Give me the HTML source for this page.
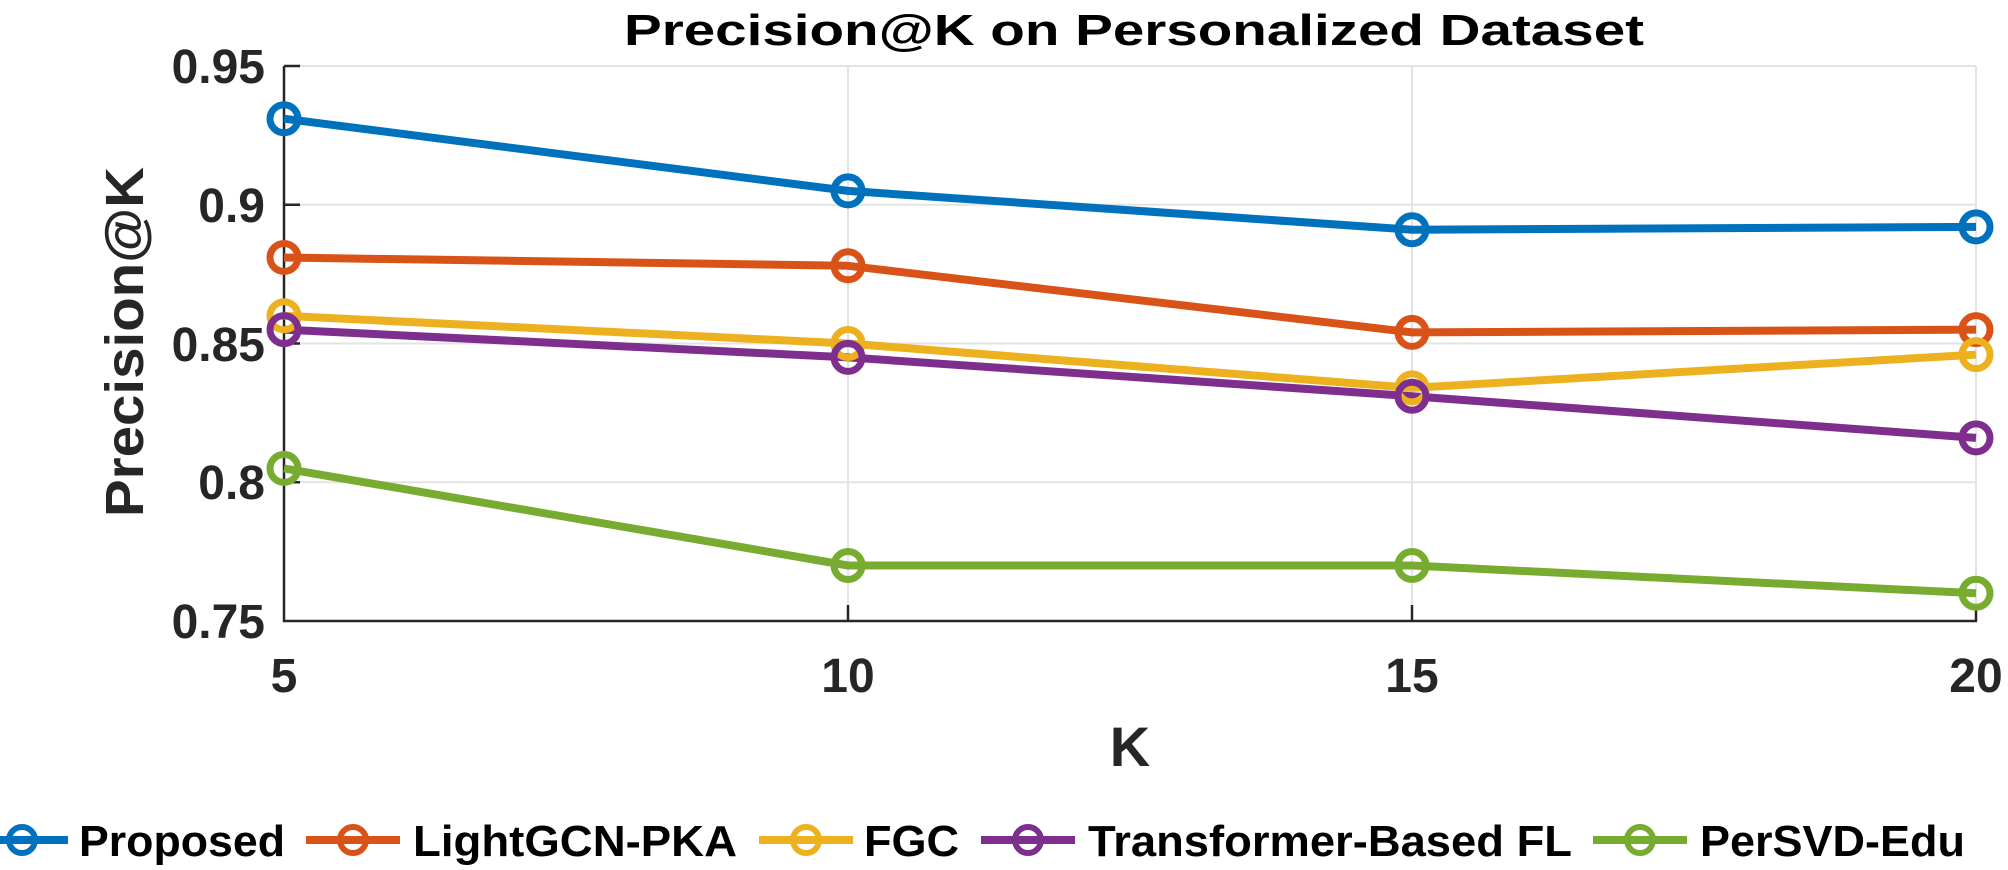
<!DOCTYPE html>
<html><head><meta charset="utf-8"><style>html,body{margin:0;padding:0;background:#fff}svg{display:block}</style></head>
<body>
<svg width="2008" height="870" viewBox="0 0 2008 870" xmlns="http://www.w3.org/2000/svg" font-family="'Liberation Sans', Arial, sans-serif" font-weight="bold">
<rect width="2008" height="870" fill="#fff"/>
<g stroke="#e3e3e3" stroke-width="2">
<line x1="284" y1="66" x2="1976" y2="66"/>
<line x1="284" y1="204.75" x2="1976" y2="204.75"/>
<line x1="284" y1="343.5" x2="1976" y2="343.5"/>
<line x1="284" y1="482.25" x2="1976" y2="482.25"/>
<line x1="848" y1="66" x2="848" y2="621"/>
<line x1="1412" y1="66" x2="1412" y2="621"/>
<line x1="1976" y1="66" x2="1976" y2="621"/>
</g>
<g stroke="#262626" stroke-width="2.5" fill="none">
<line x1="284" y1="66" x2="284" y2="622"/>
<line x1="283" y1="621" x2="1977" y2="621"/>
<line x1="284" y1="66" x2="300" y2="66"/>
<line x1="284" y1="204.75" x2="300" y2="204.75"/>
<line x1="284" y1="343.5" x2="300" y2="343.5"/>
<line x1="284" y1="482.25" x2="300" y2="482.25"/>
<line x1="848" y1="621" x2="848" y2="605"/>
<line x1="1412" y1="621" x2="1412" y2="605"/>
<line x1="1976" y1="621" x2="1976" y2="605"/>
</g>
<g fill="#262626" font-size="48" text-anchor="end">
<text x="265" y="83">0.95</text>
<text x="265" y="222">0.9</text>
<text x="265" y="361">0.85</text>
<text x="265" y="499">0.8</text>
<text x="265" y="638">0.75</text>
</g>
<g fill="#262626" font-size="48" text-anchor="middle">
<text x="284" y="692">5</text>
<text x="848" y="692">10</text>
<text x="1412" y="692">15</text>
<text x="1976" y="692">20</text>
</g>
<text x="1130" y="766" font-size="56" text-anchor="middle" fill="#262626">K</text>
<text transform="translate(143,342) rotate(-90)" font-size="54" text-anchor="middle" fill="#262626" textLength="350" lengthAdjust="spacingAndGlyphs">Precision@K</text>
<text x="1134" y="45" font-size="44" text-anchor="middle" fill="#000" textLength="1020" lengthAdjust="spacingAndGlyphs">Precision@K on Personalized Dataset</text>
<g fill="none" stroke-width="8" stroke-linejoin="round">
<polyline stroke="#0072BD" points="284,118.7 848,190.9 1412,229.7 1976,226.9"/>
<polyline stroke="#D95319" points="284,257.5 848,265.8 1412,332.4 1976,329.6"/>
<polyline stroke="#EDB120" points="284,315.8 848,343.5 1412,387.9 1976,354.6"/>
<polyline stroke="#7E2F8E" points="284,329.6 848,357.4 1412,396.2 1976,437.9"/>
<polyline stroke="#77AC30" points="284,468.4 848,565.5 1412,565.5 1976,593.3"/>
</g>
<g fill="none" stroke-width="7">
<g stroke="#0072BD"><circle cx="284" cy="118.7" r="14"/><circle cx="848" cy="190.9" r="14"/><circle cx="1412" cy="229.7" r="14"/><circle cx="1976" cy="226.9" r="14"/></g>
<g stroke="#D95319"><circle cx="284" cy="257.5" r="14"/><circle cx="848" cy="265.8" r="14"/><circle cx="1412" cy="332.4" r="14"/><circle cx="1976" cy="329.6" r="14"/></g>
<g stroke="#EDB120"><circle cx="284" cy="315.8" r="14"/><circle cx="848" cy="343.5" r="14"/><circle cx="1412" cy="387.9" r="14"/><circle cx="1976" cy="354.6" r="14"/></g>
<g stroke="#7E2F8E"><circle cx="284" cy="329.6" r="14"/><circle cx="848" cy="357.4" r="14"/><circle cx="1412" cy="396.2" r="14"/><circle cx="1976" cy="437.9" r="14"/></g>
<g stroke="#77AC30"><circle cx="284" cy="468.4" r="14"/><circle cx="848" cy="565.5" r="14"/><circle cx="1412" cy="565.5" r="14"/><circle cx="1976" cy="593.3" r="14"/></g>
</g>
<g font-size="44" fill="#000">
<g stroke-width="8"><line x1="0" y1="840" x2="68" y2="840" stroke="#0072BD"/><circle cx="22" cy="840" r="13" fill="none" stroke="#0072BD" stroke-width="6"/></g>
<text x="79" y="856" textLength="206" lengthAdjust="spacingAndGlyphs">Proposed</text>
<g stroke-width="8"><line x1="306" y1="840" x2="400" y2="840" stroke="#D95319"/><circle cx="353" cy="840" r="13" fill="none" stroke="#D95319" stroke-width="6"/></g>
<text x="413" y="856" textLength="324" lengthAdjust="spacingAndGlyphs">LightGCN-PKA</text>
<g stroke-width="8"><line x1="759" y1="840" x2="853" y2="840" stroke="#EDB120"/><circle cx="806" cy="840" r="13" fill="none" stroke="#EDB120" stroke-width="6"/></g>
<text x="864" y="856" textLength="95" lengthAdjust="spacingAndGlyphs">FGC</text>
<g stroke-width="8"><line x1="981" y1="840" x2="1075" y2="840" stroke="#7E2F8E"/><circle cx="1028" cy="840" r="13" fill="none" stroke="#7E2F8E" stroke-width="6"/></g>
<text x="1088" y="856" textLength="484" lengthAdjust="spacingAndGlyphs">Transformer-Based FL</text>
<g stroke-width="8"><line x1="1593" y1="840" x2="1687" y2="840" stroke="#77AC30"/><circle cx="1640" cy="840" r="13" fill="none" stroke="#77AC30" stroke-width="6"/></g>
<text x="1700" y="856" textLength="265" lengthAdjust="spacingAndGlyphs">PerSVD-Edu</text>
</g>
</svg>
</body></html>
